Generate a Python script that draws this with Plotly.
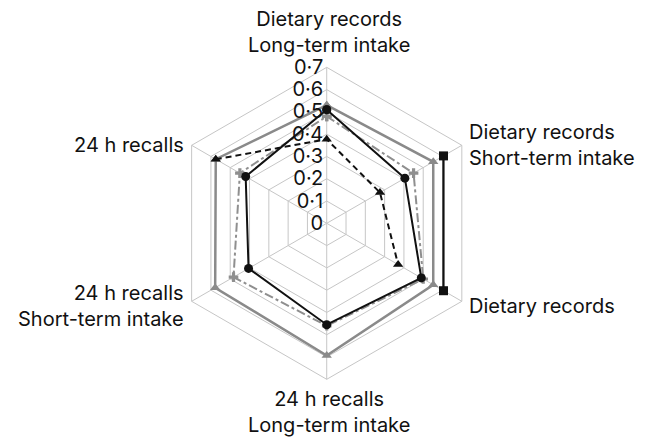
import math
import plotly.graph_objects as go

categories = [
    "Dietary records<br>Long-term intake",
    "Dietary records<br>Short-term intake",
    "Dietary records",
    "24 h recalls<br>Long-term intake",
    "24 h recalls<br>Short-term intake",
    "24 h recalls",
]

tick_values = [0, 0.1, 0.2, 0.3, 0.4, 0.5, 0.6, 0.7]
tick_labels = ["0", "0·1", "0·2", "0·3", "0·4", "0·5", "0·6", "0·7"]

gray_triangles = [0.53, 0.552, 0.552, 0.593, 0.578, 0.575]
dashdot_crosses = [0.48, 0.45, 0.50, 0.46, 0.483, 0.45]
dashed_triangles = [0.377, 0.276, 0.37, None, None, 0.575]
black_circles = [0.51, 0.405, 0.49, 0.455, 0.405, 0.42]
black_squares = [None, 0.605, 0.605, None, None, None]


def path(values):
    n = len(values)
    if all(v is not None for v in values):
        idx = list(range(n)) + [0]
    else:
        start = next(i for i in range(n) if values[i] is not None and values[i - 1] is None)
        idx = []
        for k in range(n):
            i = (start + k) % n
            if values[i] is None:
                break
            idx.append(i)
    return [categories[i] for i in idx], [values[i] for i in idx]


W, H = 645, 437
FONT = "Inter, Liberation Sans, Arial, sans-serif"
GRID = "#c6c6c6"
DOM_X = [0.2647, 0.7484]
DOM_Y = [0.132, 0.846]

fig = go.Figure()

styles = [
    (gray_triangles, dict(color="#8a8a8a", width=2.5, dash="solid"),
     dict(symbol="triangle-up", size=9, color="#8a8a8a")),
    (dashdot_crosses, dict(color="#8f8f8f", width=2, dash="dashdot"),
     dict(symbol="cross", size=8, color="#8f8f8f")),
    (dashed_triangles, dict(color="#111111", width=2, dash="6px,4px"),
     dict(symbol="triangle-up", size=9, color="#111111")),
    (black_circles, dict(color="#111111", width=2, dash="solid"),
     dict(symbol="circle", size=9, color="#111111")),
    (black_squares, dict(color="#111111", width=2.2, dash="solid"),
     dict(symbol="square", size=9, color="#111111")),
]

for vals, line, marker in styles:
    th, rr = path(vals)
    fig.add_trace(go.Scatterpolar(
        r=rr, theta=th, mode="lines+markers",
        line=line, marker=marker, showlegend=False,
    ))

# category labels placed around the polygon, derived from the polar domain geometry
cx = (DOM_X[0] + DOM_X[1]) / 2 * W
cy = (DOM_Y[0] + DOM_Y[1]) / 2 * H          # from bottom
R = min((DOM_X[1] - DOM_X[0]) * W, (DOM_Y[1] - DOM_Y[0]) * H) / 2
annotations = []
n = len(categories)
for i, cat in enumerate(categories):
    ang = math.radians(90 - 360 * i / n)
    vx = cx + R * math.cos(ang)
    vy = cy + R * math.sin(ang)
    c, s = math.cos(ang), math.sin(ang)
    if abs(c) < 0.1:
        xa = "center"
        x = vx + 2
        y = vy + (35 if s > 0 else -33)
    else:
        xa = "left" if c > 0 else "right"
        x = vx + (5 if c > 0 else -6)
        y = vy + (0 if s > 0 else -5)
    annotations.append(dict(
        text=cat, x=x / W, y=y / H, xref="paper", yref="paper",
        xanchor=xa, yanchor="middle", showarrow=False, align=xa,
        font=dict(family=FONT, size=20, color="#111111"),
    ))

fig.update_layout(
    width=W, height=H,
    margin=dict(l=0, r=0, t=0, b=0),
    paper_bgcolor="white",
    plot_bgcolor="white",
    font=dict(family=FONT, size=20, color="#111111"),
    annotations=annotations,
    polar=dict(
        domain=dict(x=DOM_X, y=DOM_Y),
        gridshape="linear",
        bgcolor="white",
        angularaxis=dict(
            direction="clockwise",
            rotation=90,
            categoryorder="array",
            categoryarray=categories,
            showline=True,
            linecolor=GRID,
            linewidth=1,
            gridcolor=GRID,
            gridwidth=1,
            ticks="",
            showticklabels=False,
        ),
        radialaxis=dict(
            range=[0, 0.7],
            tickvals=tick_values,
            ticktext=tick_labels,
            angle=90,
            side="counterclockwise",
            showline=False,
            gridcolor=GRID,
            gridwidth=1,
            ticks="",
            tickangle=90,
            tickfont=dict(family=FONT, size=20, color="#111111"),
        ),
    ),
)

fig.write_html(
    "out.html",
    config={"displayModeBar": False},
    post_script="document.body.style.margin='0';document.body.style.padding='0';",
)
